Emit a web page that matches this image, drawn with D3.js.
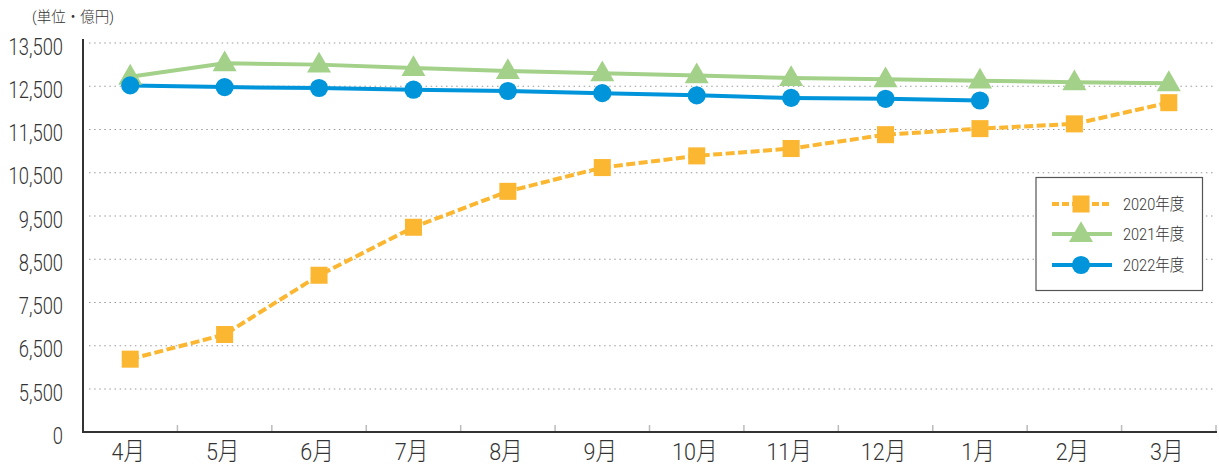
<!DOCTYPE html>
<html><head><meta charset="utf-8">
<script src="https://cdn.jsdelivr.net/npm/d3@7"></script>
<style>body{margin:0;background:#fff}svg{display:block}text{font-family:Roboto,"Noto Sans CJK JP","Noto Sans",sans-serif;fill:#333;font-weight:300}</style>
</head><body><svg id="c" width="1219" height="466"></svg>
<script>
const months = ["4月","5月","6月","7月","8月","9月","10月","11月","12月","1月","2月","3月"];
const yTicks = [0,5500,6500,7500,8500,9500,10500,11500,12500,13500];
const s2020 = [6190,6760,8130,9240,10070,10620,10890,11060,11380,11520,11630,12120];
const s2021 = [12720,13030,13000,12920,12850,12800,12750,12690,12660,12630,12590,12570];
const s2022 = [12520,12480,12460,12420,12390,12340,12290,12230,12210,12170];
const seriesNames = ["2020年度","2021年度","2022年度"];
const colors = ["#FBB731","#A3D18A","#0095DA"];

const svg = d3.select("#c");
const L=83, R=1216, T=43, B=432;
const x = d3.scaleBand().domain(months).range([L,R]);
const y = d3.scaleLinear().domain([0,5500,13500]).range([B,389,T]);

// grid
svg.append("g").selectAll("line").data(yTicks.filter(d=>d>0)).join("line")
  .attr("x1",L+6).attr("x2",1214).attr("y1",d=>y(d)).attr("y2",d=>y(d))
  .attr("stroke","#9a9a9a").attr("stroke-width",1.2).attr("stroke-dasharray","1.5,3.6");

// y axis
const ys = 0.75;
const ya = svg.append("g").attr("transform",`translate(${L},0)`)
  .call(d3.axisLeft(y).tickValues(yTicks).tickSize(0).tickFormat(d3.format(",")));
ya.select(".domain").remove();
ya.selectAll("text").attr("font-size",24.5).attr("fill","#333")
  .attr("x",-20/ys).attr("dy","0.45em").attr("transform",`scale(${ys},1)`);
svg.append("line").attr("x1",L).attr("x2",L).attr("y1",39).attr("y2",B+1).attr("stroke","#333").attr("stroke-width",2);

// x axis
const xs = 0.88;
const xa = svg.append("g").attr("transform",`translate(0,${B})`)
  .call(d3.axisBottom(x).tickSize(0).tickPadding(11));
xa.select(".domain").remove();
xa.selectAll(".tick").each(function(){
  const t = d3.select(this).attr("transform");
  const m = /translate\(([^,]+),/.exec(t);
  d3.select(this).attr("transform",`translate(${+m[1]-2},0)`);
});
xa.selectAll("text").attr("font-size",24.5).attr("fill","#333").attr("transform",`scale(${xs},1)`);
svg.append("g").selectAll("line").data(months).join("line")
  .attr("x1",d=>x(d)+x.bandwidth()).attr("x2",d=>x(d)+x.bandwidth())
  .attr("y1",B-7).attr("y2",B).attr("stroke","#bbb").attr("stroke-width",1.5);
svg.append("line").attr("x1",L-1).attr("x2",1217).attr("y1",B).attr("y2",B).attr("stroke","#333").attr("stroke-width",2);

svg.append("text").attr("x",32).attr("y",22).attr("font-size",14.5).text("(単位・億円)");

const cx = (d,i)=>x(months[i])+x.bandwidth()/2;
const line = d3.line().x(cx).y(d=>y(d));
const data = [s2020,s2021,s2022];
const sym = [d3.symbolSquare,d3.symbolTriangle,d3.symbolCircle];
const symSize=[290,250,260];
data.forEach((s,k)=>{
  svg.append("path").attr("d",line(s)).attr("fill","none").attr("stroke",colors[k])
    .attr("stroke-width",4).attr("stroke-dasharray",k===0?"9,3.5":null);
});
data.forEach((s,k)=>{
  svg.append("g").selectAll("path").data(s).join("path")
    .attr("transform",(d,i)=>`translate(${cx(d,i)},${y(d)+(k===1?1:0)})`)
    .attr("d",d3.symbol(sym[k],symSize[k])).attr("fill",colors[k]);
});

// legend
const lg = svg.append("g");
lg.append("rect").attr("x",1036).attr("y",177.5).attr("width",166.5).attr("height",113).attr("fill","#fff").attr("stroke","#555").attr("stroke-width",1.2);
const ly=[204,234,265];
const ls = 0.88;
seriesNames.forEach((n,k)=>{
  lg.append("line").attr("x1",1052).attr("x2",1112).attr("y1",ly[k]).attr("y2",ly[k]).attr("stroke",colors[k]).attr("stroke-width",4).attr("stroke-dasharray",k===0?"7,3":null);
  lg.append("path").attr("transform",`translate(1081,${ly[k]+(k===1?1:0)})`).attr("d",d3.symbol(sym[k],symSize[k])).attr("fill",colors[k]);
  lg.append("text").attr("transform",`translate(1123,${ly[k]+6}) scale(${ls},1)`).attr("font-size",16.5).text(n);
});
</script></body></html>
